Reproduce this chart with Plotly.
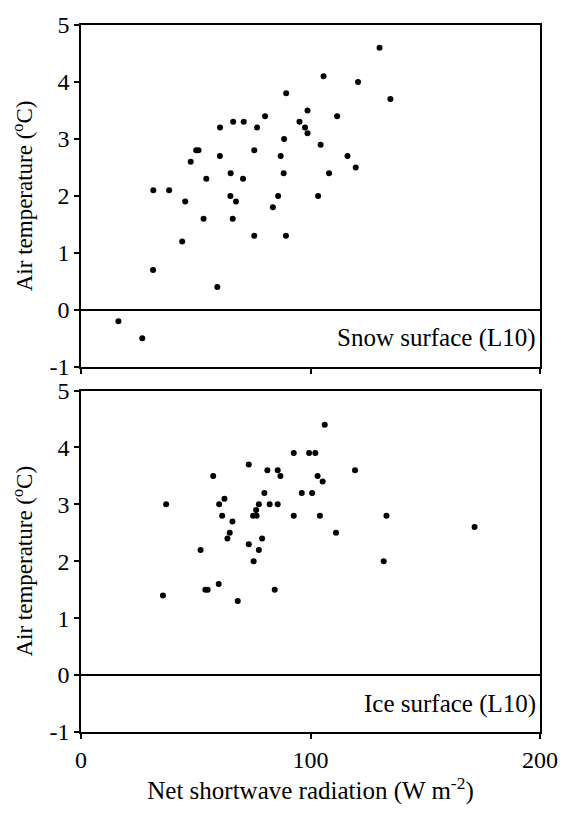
import plotly.graph_objects as go

# Snow surface (L10): net shortwave radiation (W m-2) vs air temperature (degC)
snow_sw = [105.7, 89.4, 98.7, 80.2, 66.3, 70.9, 60.6, 76.7, 95.2, 97.6,
           98.7, 88.5, 104.4, 50.2, 51.2, 75.5, 60.5, 87.0, 47.8, 65.2,
           88.3, 54.6, 70.6, 31.5, 38.4, 65.1, 85.9, 103.3, 45.4, 67.5,
           83.6, 130.1, 120.7, 134.8, 111.6, 116.1, 108.1, 119.7, 53.4, 66.1,
           44.1, 75.5, 89.3, 31.4, 59.4, 16.3, 26.7]
snow_ta = [4.1, 3.8, 3.5, 3.4, 3.3, 3.3, 3.2, 3.2, 3.3, 3.2,
           3.1, 3.0, 2.9, 2.8, 2.8, 2.8, 2.7, 2.7, 2.6, 2.4,
           2.4, 2.3, 2.3, 2.1, 2.1, 2.0, 2.0, 2.0, 1.9, 1.9,
           1.8, 4.6, 4.0, 3.7, 3.4, 2.7, 2.4, 2.5, 1.6, 1.6,
           1.2, 1.3, 1.3, 0.7, 0.4, -0.2, -0.5]

# Ice surface (L10)
ice_sw = [106.2, 92.7, 99.4, 102.1, 73.1, 57.6, 81.2, 85.7, 86.9, 103.1,
          105.3, 37.1, 62.5, 60.2, 79.9, 96.2, 100.7, 77.5, 82.2, 85.7,
          76.3, 61.5, 75.0, 76.5, 92.7, 104.1, 66.0, 64.8, 63.8, 78.9,
          52.1, 73.1, 77.5, 75.2, 60.0, 54.2, 55.2, 84.4, 35.7, 68.3,
          119.4, 133.1, 111.1, 171.5, 131.9]
ice_ta = [4.4, 3.9, 3.9, 3.9, 3.7, 3.5, 3.6, 3.6, 3.5, 3.5,
          3.4, 3.0, 3.1, 3.0, 3.2, 3.2, 3.2, 3.0, 3.0, 3.0,
          2.9, 2.8, 2.8, 2.8, 2.8, 2.8, 2.7, 2.5, 2.4, 2.4,
          2.2, 2.3, 2.2, 2.0, 1.6, 1.5, 1.5, 1.5, 1.4, 1.3,
          3.6, 2.8, 2.5, 2.6, 2.0]

x_ticks = [0, 100, 200]
y_ticks = [-1, 0, 1, 2, 3, 4, 5]
y_ticktext = ["-1", "0", "1", "2", "3", "4", "5"]

panel_labels = ["Snow surface (L10)", "Ice surface (L10)"]
y_title = "Air temperature (<sup>o</sup>C)"
x_title = "Net shortwave radiation (W m<sup>-2</sup>)"

FONT = "Liberation Serif, Times New Roman, serif"
marker = dict(color="black", size=6, line=dict(width=0))

fig = go.Figure()
fig.add_trace(go.Scatter(x=snow_sw, y=snow_ta, mode="markers", marker=marker,
                         xaxis="x", yaxis="y", showlegend=False))
fig.add_trace(go.Scatter(x=ice_sw, y=ice_ta, mode="markers", marker=marker,
                         xaxis="x2", yaxis="y2", showlegend=False))

common_x = dict(range=[0, 200], tickvals=x_ticks, ticks="outside", ticklen=5,
                tickwidth=1.5, tickcolor="black", showline=True, mirror=True,
                linecolor="black", linewidth=1.6, showgrid=False, zeroline=False,
                tickfont=dict(family=FONT, size=24, color="black"))
common_y = dict(range=[-1, 5], tickvals=y_ticks, ticktext=y_ticktext,
                ticks="outside", ticklen=5, tickwidth=1.5, tickcolor="black",
                showline=True, mirror=True, linecolor="black", linewidth=1.6,
                showgrid=False, zeroline=True, zerolinecolor="black",
                zerolinewidth=1.6,
                tickfont=dict(family=FONT, size=24, color="black"))

fig.update_layout(
    width=570, height=817,
    margin=dict(l=81, r=22, t=15, b=85),
    paper_bgcolor="white", plot_bgcolor="white",
    font=dict(family=FONT, color="black"),
    xaxis=dict(common_x, anchor="y", showticklabels=False),
    yaxis=dict(common_y, anchor="x", domain=[0.5165, 1.0],
               title=dict(text=y_title, font=dict(family=FONT, size=23),
                          standoff=10)),
    xaxis2=dict(common_x, anchor="y2",
                title=dict(text=x_title, font=dict(family=FONT, size=25),
                           standoff=6)),
    yaxis2=dict(common_y, anchor="x2", domain=[0.0, 0.483],
                title=dict(text=y_title, font=dict(family=FONT, size=23),
                           standoff=10)),
)

for i, label in enumerate(panel_labels):
    suffix = "" if i == 0 else "2"
    fig.add_annotation(text=label, xref=f"x{suffix} domain", yref=f"y{suffix}",
                       x=1, y=-0.5, xanchor="right", yanchor="middle",
                       xshift=-2, showarrow=False,
                       font=dict(family=FONT, size=25, color="black"))

fig.write_html("out.html")
